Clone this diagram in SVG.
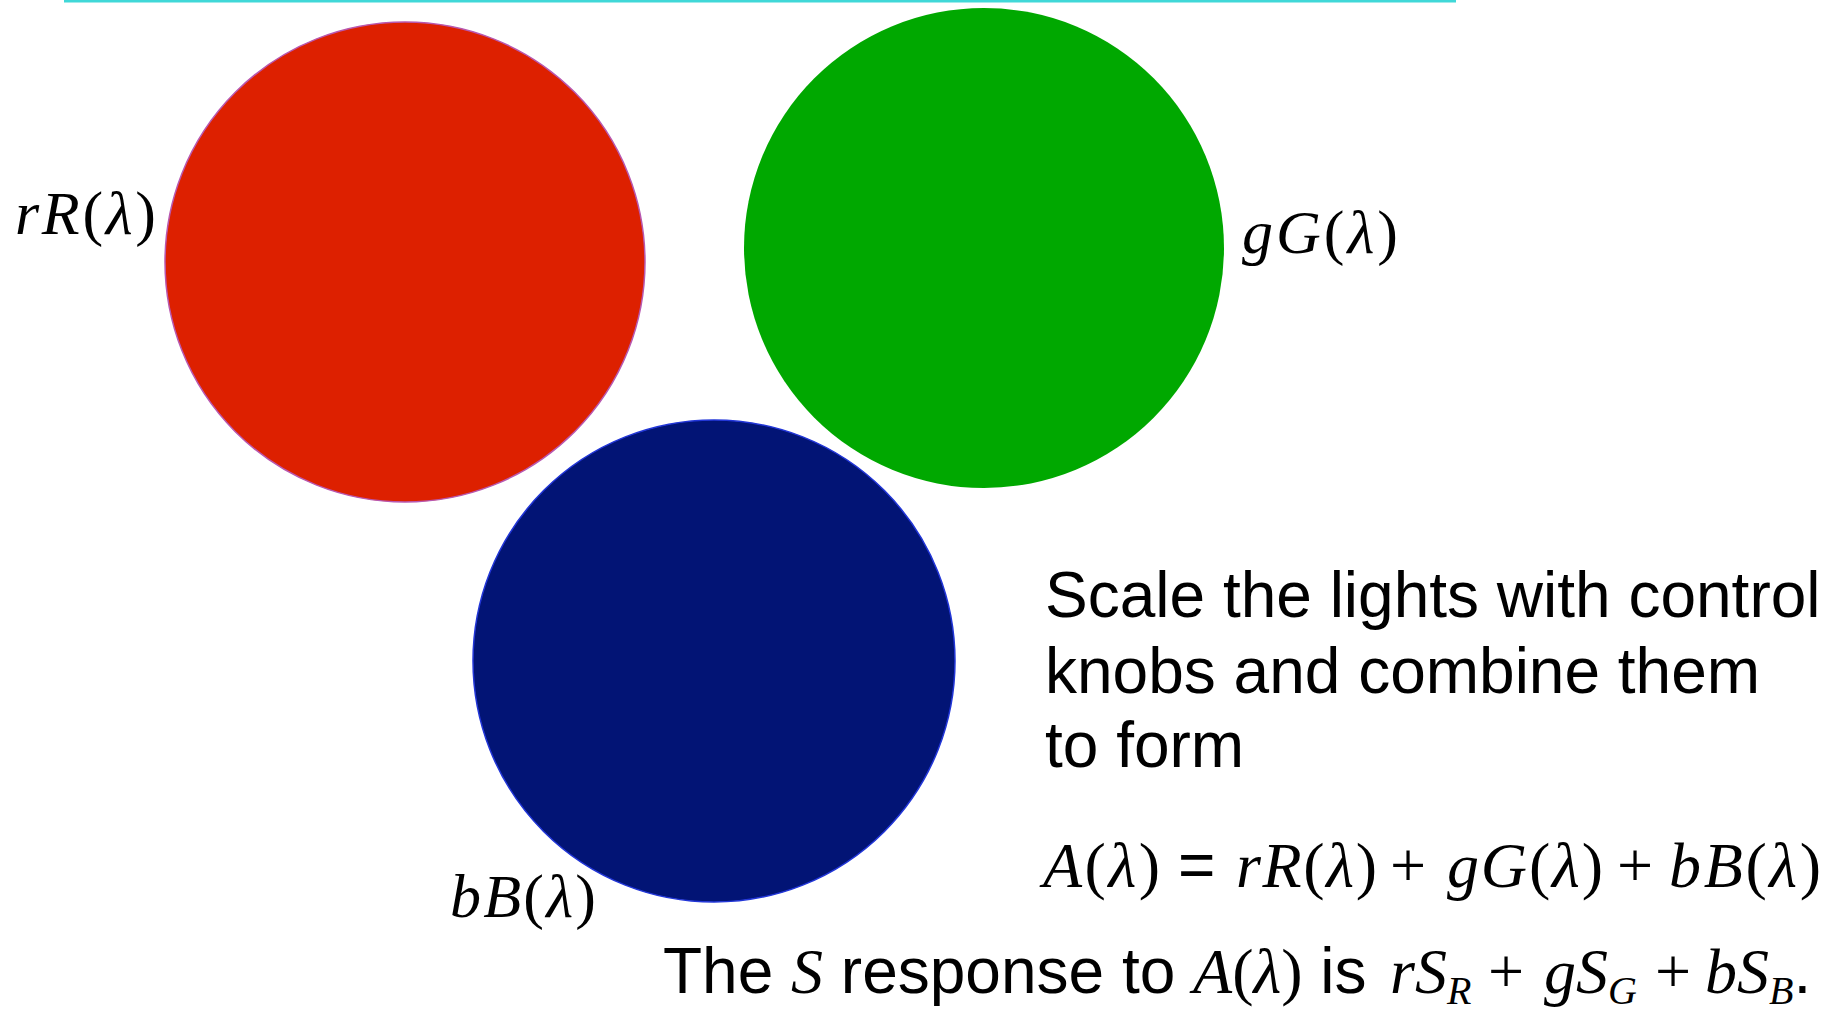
<svg xmlns="http://www.w3.org/2000/svg" width="1837" height="1010" viewBox="0 0 1837 1010">
<style>
.m{font-family:"Liberation Serif","Times New Roman",serif;font-style:italic;fill:#000}
.s{font-family:"Liberation Sans",Arial,sans-serif;fill:#000}
.u{font-style:normal}
</style>
<rect x="0" y="0" width="1837" height="1010" fill="#fff"/>
<rect x="64" y="0" width="1392" height="2.5" fill="#40D8D8"/>
<g id="red">
<circle cx="405" cy="262" r="240" fill="#DD2000" stroke="#B858B0" stroke-width="1.5"/>
<text class="m" x="15" y="234" font-size="62" textLength="141" lengthAdjust="spacing">rR<tspan class="u">(</tspan>λ<tspan class="u">)</tspan></text>
</g>
<g id="green">
<circle cx="984" cy="248" r="240" fill="#00A800"/>
<text class="m" x="1242" y="253" font-size="62" textLength="156" lengthAdjust="spacing">gG<tspan class="u">(</tspan>λ<tspan class="u">)</tspan></text>
</g>
<g id="blue">
<circle cx="714" cy="661" r="241" fill="#021475" stroke="#2236D8" stroke-width="1.5"/>
<text class="m" x="450" y="917" font-size="62" textLength="146" lengthAdjust="spacing">bB<tspan class="u">(</tspan>λ<tspan class="u">)</tspan></text>
</g>
<g id="connectors"></g>
<g id="text">
<text class="s" font-size="64"><tspan x="1045" y="617">Scale the lights with control</tspan><tspan x="1045" y="693">knobs and combine them</tspan><tspan x="1045" y="767">to form</tspan></text>
<text class="m" x="1043" y="887" font-size="64" textLength="117" lengthAdjust="spacing">A<tspan class="u">(</tspan>λ<tspan class="u">)</tspan></text>
<text class="s" x="1178" y="887" font-size="64">=</text>
<text class="m" x="1236" y="887" font-size="64" textLength="141" lengthAdjust="spacing">rR<tspan class="u">(</tspan>λ<tspan class="u">)</tspan></text>
<text class="m u" x="1390" y="887" font-size="64">+</text>
<text class="m" x="1447" y="887" font-size="64" textLength="156" lengthAdjust="spacing">gG<tspan class="u">(</tspan>λ<tspan class="u">)</tspan></text>
<text class="m u" x="1617" y="887" font-size="64">+</text>
<text class="m" x="1669" y="887" font-size="64" textLength="152" lengthAdjust="spacing">bB<tspan class="u">(</tspan>λ<tspan class="u">)</tspan></text>
<text y="993" font-size="64"><tspan class="s" x="663">The </tspan><tspan class="m">S</tspan><tspan class="s"> response to </tspan><tspan class="m">A<tspan class="u">(</tspan>λ<tspan class="u">)</tspan></tspan><tspan class="s"> is </tspan><tspan class="m" x="1390">rS</tspan><tspan class="m" font-size="40" dy="11">R</tspan><tspan class="m u" x="1488" dy="-11">+</tspan><tspan class="m" x="1544">gS</tspan><tspan class="m" font-size="40" dy="11">G</tspan><tspan class="m u" x="1655" dy="-11">+</tspan><tspan class="m" x="1705">bS</tspan><tspan class="m" font-size="40" dy="11">B</tspan><tspan class="s" dy="-11">.</tspan></text>
</g>
</svg>
